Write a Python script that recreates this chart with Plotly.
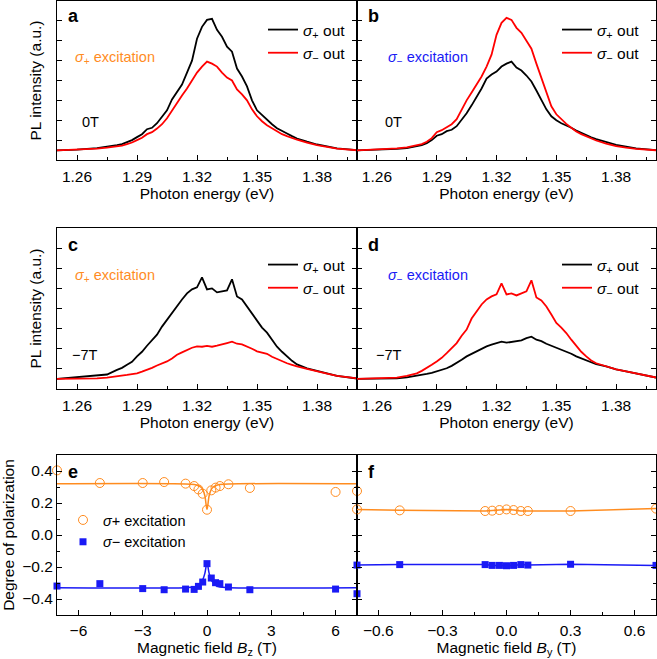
import plotly.graph_objects as go
from plotly.subplots import make_subplots

W, H = 657, 659

# photon energy grid (eV) shared by all spectra
energy = [1.250, 1.260, 1.270, 1.275, 1.280, 1.2825, 1.285, 1.2875, 1.290, 1.2925,
          1.295, 1.2975, 1.300, 1.3025, 1.305, 1.3075, 1.310, 1.3125, 1.315, 1.3175,
          1.320, 1.3225, 1.325, 1.3275, 1.330, 1.3325, 1.335, 1.3375, 1.340, 1.3425,
          1.345, 1.3475, 1.350, 1.3525, 1.355, 1.3575, 1.360, 1.3625, 1.365, 1.3675,
          1.370, 1.375, 1.380, 1.385, 1.390, 1.400]

# a: sigma+ excitation, 0T
a_plus = [0.48, 0.52, 0.60, 0.66, 0.75, 0.80, 0.90, 1.00, 1.15, 1.30,
          1.55, 1.62, 1.85, 2.15, 2.50, 3.05, 3.45, 3.80, 4.40, 5.00,
          6.10, 6.70, 7.05, 7.10, 6.55, 6.20, 5.70, 5.45, 4.60, 4.20,
          3.70, 3.00, 2.50, 2.25, 2.00, 1.80, 1.60, 1.45, 1.33, 1.20,
          1.08, 0.92, 0.78, 0.68, 0.58, 0.50]
a_minus = [0.48, 0.52, 0.57, 0.62, 0.67, 0.72, 0.80, 0.88, 1.00, 1.12,
           1.30, 1.40, 1.58, 1.80, 2.10, 2.50, 2.90, 3.25, 3.60, 4.00,
           4.40, 4.70, 4.95, 4.85, 4.70, 4.40, 4.15, 4.00, 3.55, 3.30,
           3.00, 2.55, 2.20, 1.95, 1.75, 1.60, 1.45, 1.30, 1.20, 1.10,
           1.02, 0.88, 0.75, 0.66, 0.57, 0.49]

# b: sigma- excitation, 0T
b_plus = [0.48, 0.51, 0.56, 0.60, 0.68, 0.75, 0.85, 1.00, 1.22, 1.30,
          1.45, 1.52, 1.70, 2.00, 2.35, 2.75, 3.15, 3.60, 4.10, 4.30,
          4.45, 4.70, 4.85, 4.95, 4.65, 4.50, 4.25, 3.95, 3.50, 3.05,
          2.55, 2.20, 2.00, 1.85, 1.75, 1.62, 1.48, 1.36, 1.25, 1.14,
          1.05, 0.90, 0.76, 0.67, 0.58, 0.50]
b_minus = [0.48, 0.52, 0.58, 0.63, 0.72, 0.80, 0.92, 1.10, 1.40, 1.50,
           1.65, 1.80, 2.05, 2.55, 3.00, 3.40, 3.80, 4.20, 4.70, 5.30,
           6.30, 6.90, 7.15, 7.05, 6.65, 6.40, 6.00, 5.60, 4.85, 4.10,
           3.35, 2.70, 2.30, 2.05, 1.82, 1.62, 1.43, 1.30, 1.18, 1.07,
           0.98, 0.82, 0.70, 0.62, 0.56, 0.49]

# c: sigma+ excitation, -7T
c_plus = [0.50, 0.58, 0.66, 0.72, 0.95, 1.05, 1.20, 1.35, 1.62, 1.85,
          2.15, 2.40, 2.70, 3.10, 3.45, 3.80, 4.10, 4.45, 4.75, 4.95,
          5.05, 5.55, 4.95, 5.00, 4.80, 4.85, 4.90, 5.45, 4.60, 4.45,
          4.10, 3.75, 3.35, 3.05, 2.80, 2.45, 2.10, 1.85, 1.62, 1.40,
          1.22, 1.03, 0.90, 0.76, 0.65, 0.52]
c_minus = [0.50, 0.51, 0.53, 0.57, 0.62, 0.66, 0.70, 0.74, 0.78, 0.86,
           0.95, 1.05, 1.17, 1.27, 1.37, 1.52, 1.70, 1.82, 1.95, 2.05,
           2.12, 2.10, 2.14, 2.10, 2.15, 2.20, 2.28, 2.35, 2.25, 2.22,
           2.12, 2.00, 1.87, 1.82, 1.75, 1.60, 1.48, 1.38, 1.28, 1.20,
           1.12, 1.00, 0.87, 0.76, 0.65, 0.53]

# d: sigma- excitation, -7T
d_plus = [0.50, 0.51, 0.53, 0.58, 0.65, 0.70, 0.75, 0.80, 0.87, 0.95,
          1.03, 1.15, 1.28, 1.45, 1.62, 1.75, 1.87, 2.00, 2.12, 2.20,
          2.28, 2.35, 2.30, 2.35, 2.37, 2.42, 2.53, 2.60, 2.45, 2.38,
          2.25, 2.15, 2.03, 1.95, 1.87, 1.75, 1.62, 1.52, 1.45, 1.33,
          1.23, 1.12, 0.98, 0.88, 0.78, 0.57]
d_minus = [0.50, 0.52, 0.57, 0.65, 0.78, 0.90, 1.03, 1.20, 1.37, 1.55,
           1.78, 2.05, 2.28, 2.65, 2.95, 3.50, 3.87, 4.20, 4.45, 4.60,
           4.70, 5.25, 4.70, 4.75, 4.65, 4.75, 4.85, 5.40, 4.55, 4.40,
           4.10, 3.70, 3.28, 3.05, 2.78, 2.45, 2.12, 1.85, 1.62, 1.42,
           1.28, 1.12, 0.98, 0.88, 0.78, 0.57]

# e: degree of polarization vs Bz
bz = [-7, -5, -3, -2, -1, -0.6, -0.4, -0.2, 0, 0.2, 0.4, 0.6, 1, 2, 6, 7]
bz_plus = [0.404, 0.325, 0.325, 0.331, 0.321, 0.306, 0.285, 0.258, 0.158, 0.279,
           0.296, 0.306, 0.317, 0.294, 0.269, 0.275]
bz_minus = [-0.319, -0.304, -0.335, -0.342, -0.338, -0.340, -0.321, -0.294, -0.179,
            -0.269, -0.298, -0.304, -0.325, -0.342, -0.338, -0.367]
bz_fit = [-7, -1, -0.6, -0.4, -0.3, -0.2, -0.1, 0, 0.1, 0.2, 0.3, 0.4, 0.6, 1, 7]
bz_fit_plus = [0.32, 0.319, 0.315, 0.308, 0.30, 0.285, 0.245, 0.16, 0.245, 0.285, 0.30, 0.308,
               0.315, 0.319, 0.32]
bz_fit_minus = [-0.33, -0.329, -0.325, -0.315, -0.30, -0.28, -0.24, -0.175, -0.24,
                -0.28, -0.30, -0.315, -0.325, -0.329, -0.33]

# f: degree of polarization vs By
by = [-0.7, -0.5, -0.1, -0.067, -0.033, 0, 0.033, 0.067, 0.1, 0.3, 0.7]
by_plus = [0.160, 0.154, 0.150, 0.152, 0.156, 0.160, 0.156, 0.150, 0.150, 0.150, 0.165]
by_minus = [-0.188, -0.185, -0.185, -0.190, -0.190, -0.192, -0.190, -0.185, -0.188,
            -0.183, -0.190]

ORANGE = "#FF8C1F"
BLUE = "#1A1AF5"
RED = "#FF0000"
FONT = "Liberation Sans, Arial, sans-serif"
FS = 15.5


def pxx(x):
    return x / W


def pxy(y):
    return 1 - y / H


fig = make_subplots(rows=3, cols=2)

spectra = [
    (1, 1, a_plus, a_minus, "legend2"),
    (1, 2, b_plus, b_minus, "legend3"),
    (2, 1, c_plus, c_minus, "legend4"),
    (2, 2, d_plus, d_minus, "legend5"),
]
for row, col, yp, ym, lg in spectra:
    fig.add_trace(go.Scatter(x=energy, y=yp, mode="lines", line=dict(color="black", width=1.8),
                             name="<i>σ</i><sub>+</sub> out", legend=lg), row=row, col=col)
    fig.add_trace(go.Scatter(x=energy, y=ym, mode="lines", line=dict(color=RED, width=1.8),
                             name="<i>σ</i><sub>−</sub> out", legend=lg), row=row, col=col)

# e
fig.add_trace(go.Scatter(x=bz_fit, y=bz_fit_plus, mode="lines", line=dict(color=ORANGE, width=1.5, shape="spline"),
                         showlegend=False), row=3, col=1)
fig.add_trace(go.Scatter(x=bz_fit, y=bz_fit_minus, mode="lines", line=dict(color=BLUE, width=1.5, shape="spline"),
                         showlegend=False), row=3, col=1)
fig.add_trace(go.Scatter(x=bz, y=bz_plus, mode="markers", cliponaxis=False,
                         marker=dict(symbol="circle-open", size=9, color=ORANGE, line=dict(width=1)),
                         name="<i>σ</i>+ excitation", legend="legend"), row=3, col=1)
fig.add_trace(go.Scatter(x=bz, y=bz_minus, mode="markers", cliponaxis=False,
                         marker=dict(symbol="square", size=7, color=BLUE),
                         name="<i>σ</i>− excitation", legend="legend"), row=3, col=1)

# f
fig.add_trace(go.Scatter(x=by, y=by_plus, mode="lines+markers", cliponaxis=False,
                         line=dict(color=ORANGE, width=1.5),
                         marker=dict(symbol="circle-open", size=9, color=ORANGE, line=dict(width=1)),
                         showlegend=False), row=3, col=2)
fig.add_trace(go.Scatter(x=by, y=by_minus, mode="lines+markers", cliponaxis=False,
                         line=dict(color=BLUE, width=1.5),
                         marker=dict(symbol="square", size=7, color=BLUE),
                         showlegend=False), row=3, col=2)

common = dict(showline=True, linecolor="black", linewidth=1, ticks="inside", ticklen=5,
              tickcolor="black", tickwidth=1, showgrid=False, zeroline=False,
              tickfont=dict(size=FS, color="black"))

xl = [pxx(57), pxx(357)]
xr = [pxx(357), pxx(656)]
rows_y = {1: [pxy(160), pxy(1)], 2: [pxy(389), pxy(228)], 3: [pxy(615), pxy(455)]}

for r in (1, 2):
    for c, dom in ((1, xl), (2, xr)):
        fig.update_xaxes(common, domain=dom, range=[1.25, 1.40], tick0=1.26, dtick=0.03,
                         tickformat=".2f", mirror=True, ticklabelstandoff=2,
                         minor=dict(ticks="inside", ticklen=3, tick0=1.26, dtick=0.015, tickcolor="black"),
                         title=dict(text="Photon energy (eV)", font=dict(size=FS), standoff=3),
                         row=r, col=c)
        fig.update_yaxes(common, domain=rows_y[r], range=[0, 8], tick0=0, dtick=1,
                         showticklabels=False, mirror="ticks", row=r, col=c)
    fig.update_yaxes(title=dict(text="PL intensity (a.u.)", font=dict(size=FS), standoff=10), row=r, col=1)

fig.update_xaxes(common, domain=xl, range=[-7, 7], tick0=0, dtick=3, mirror=True, ticklabelstandoff=1,
                 minor=dict(ticks="inside", ticklen=3, tick0=0, dtick=1.5, tickcolor="black"),
                 title=dict(text="Magnetic field <i>B</i><sub>z</sub> (T)", font=dict(size=FS), standoff=2),
                 row=3, col=1)
fig.update_xaxes(common, domain=xr, range=[-0.7, 0.7], tick0=0, dtick=0.3, tickformat=".1f",
                 mirror=True, ticklabelstandoff=1,
                 minor=dict(ticks="inside", ticklen=3, tick0=0, dtick=0.15, tickcolor="black"),
                 title=dict(text="Magnetic field <i>B</i><sub>y</sub> (T)", font=dict(size=FS), standoff=2),
                 row=3, col=2)
fig.update_yaxes(common, domain=rows_y[3], range=[-0.5, 0.5], tick0=0, dtick=0.2, tickformat=".1f",
                 mirror="ticks", minor=dict(ticks="inside", ticklen=3, tick0=0, dtick=0.1, tickcolor="black"),
                 title=dict(text="Degree of polarization", font=dict(size=FS), standoff=6),
                 row=3, col=1)
fig.update_yaxes(common, domain=rows_y[3], range=[-0.5, 0.5], tick0=0, dtick=0.2, showticklabels=False,
                 mirror="ticks", minor=dict(ticks="inside", ticklen=3, tick0=0, dtick=0.1, tickcolor="black"),
                 row=3, col=2)

leg = dict(bgcolor="rgba(0,0,0,0)", font=dict(size=FS, color="black"), xanchor="left", yanchor="top",
           tracegroupgap=0)
fig.update_layout(
    legend=dict(leg, x=pxx(63), y=pxy(504), font=dict(size=14.5, color="black")),
    legend2=dict(leg, x=pxx(263), y=pxy(13)),
    legend3=dict(leg, x=pxx(557), y=pxy(13)),
    legend4=dict(leg, x=pxx(263), y=pxy(248)),
    legend5=dict(leg, x=pxx(557), y=pxy(248)),
)

labels = [
    ("a", 66, 16, "black", True), ("b", 366, 16, "black", True),
    ("c", 66, 245, "black", True), ("d", 366, 245, "black", True),
    ("e", 66, 472, "black", True), ("f", 366, 472, "black", True),
    ("<i>σ</i><sub>+</sub> excitation", 73, 58, ORANGE, False),
    ("<i>σ</i><sub>−</sub> excitation", 386, 58, BLUE, False),
    ("<i>σ</i><sub>+</sub> excitation", 73, 276, ORANGE, False),
    ("<i>σ</i><sub>−</sub> excitation", 386, 276, BLUE, False),
    ("0T", 80, 122, "black", False), ("0T", 383, 122, "black", False),
    ("−7T", 70, 355, "black", False), ("−7T", 374, 355, "black", False),
]
for text, x, y, color, bold in labels:
    fig.add_annotation(x=pxx(x), y=pxy(y), xref="paper", yref="paper", text=f"<b>{text}</b>" if bold else text,
                       showarrow=False, xanchor="left", yanchor="middle",
                       font=dict(size=18 if bold else 14.5, color=color))

fig.update_layout(
    width=W, height=H, margin=dict(l=0, r=0, t=0, b=0),
    paper_bgcolor="white", plot_bgcolor="white",
    font=dict(family=FONT, size=FS, color="black"),
)

# page body has an 8px default margin; remove it so the figure sits at the window origin
fig.write_html("out.html", config={"displayModeBar": False},
               post_script="document.body.style.margin='0';document.body.style.overflow='hidden';")
